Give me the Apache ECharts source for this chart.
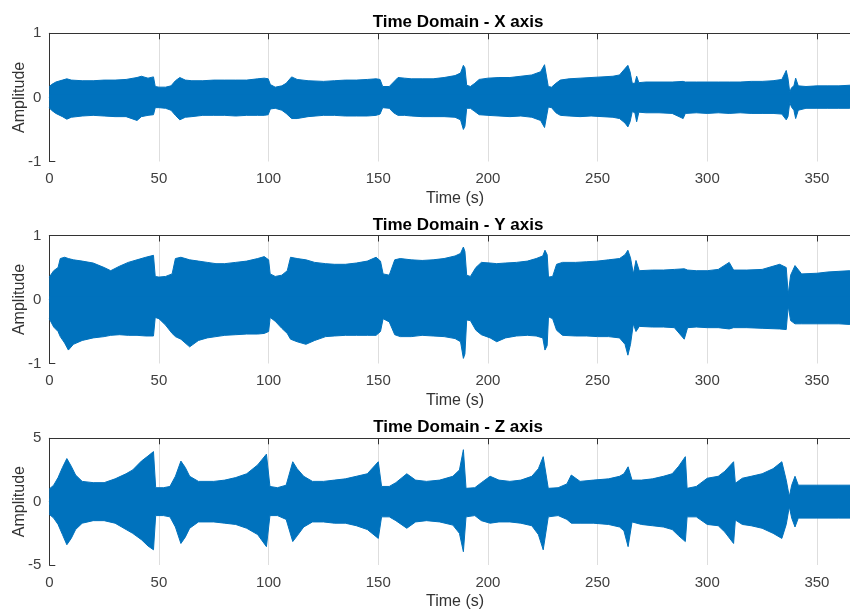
<!DOCTYPE html>
<html>
<head>
<meta charset="utf-8">
<script src="https://cdn.jsdelivr.net/npm/echarts@6/dist/echarts.min.js"></script>
<style>html,body{margin:0;padding:0;background:#fff}#c{width:850px;height:610px}</style>
</head>
<body>
<div id="c"></div>
<script>
// ---- Data (envelope of each signal) ----
var titles = ["Time Domain - X axis", "Time Domain - Y axis", "Time Domain - Z axis"];
var xTicks = [0, 50, 100, 150, 200, 250, 300, 350];
var yTicksXY = [-1, 0, 1];
var yTicksZ = [-5, 0, 5];

var tX = [0,1,3,6,8,10,15,20,25,30,35,40,42,45,47.5,48.3,50,53,55.5,57.5,59.5,62,65,70,75,80,85,90,95,98,99.8,100.8,103,106,108,110.5,113,118,125,130,135,140,145,149,150.8,152,155,157,159,162,165,170,175,180,185,187.5,188.8,189.5,190.3,192,194,196,200,205,210,215,220,224,225.8,226.6,227.5,229,231,233,237,242,247,252,257,260,262.5,263.8,264.8,265.8,267,267.8,268.8,272,278,284,289,290,295,300,305,310,315,320,325,330,334,336,336.8,337.6,338.4,339.5,340.3,341.5,345,350,355,360,365,370];
var upX = [0.17,0.20,0.24,0.27,0.29,0.27,0.26,0.26,0.27,0.27,0.28,0.31,0.33,0.30,0.32,0.17,0.16,0.16,0.18,0.26,0.31,0.27,0.26,0.26,0.27,0.27,0.27,0.27,0.29,0.30,0.29,0.20,0.16,0.18,0.22,0.32,0.28,0.26,0.25,0.26,0.27,0.27,0.28,0.29,0.28,0.17,0.17,0.24,0.31,0.30,0.29,0.29,0.29,0.31,0.34,0.38,0.50,0.46,0.19,0.17,0.22,0.28,0.30,0.31,0.31,0.33,0.35,0.40,0.51,0.48,0.17,0.16,0.22,0.27,0.29,0.30,0.31,0.32,0.33,0.35,0.45,0.50,0.40,0.22,0.22,0.33,0.23,0.24,0.24,0.24,0.25,0.24,0.24,0.24,0.24,0.24,0.24,0.25,0.25,0.26,0.28,0.42,0.30,0.08,0.15,0.18,0.30,0.18,0.17,0.18,0.18,0.18,0.19,0.18];
var loX = [-0.16,-0.20,-0.25,-0.30,-0.34,-0.31,-0.29,-0.28,-0.29,-0.30,-0.30,-0.36,-0.30,-0.28,-0.27,-0.16,-0.16,-0.17,-0.20,-0.28,-0.35,-0.31,-0.30,-0.28,-0.28,-0.28,-0.29,-0.28,-0.28,-0.28,-0.27,-0.18,-0.17,-0.20,-0.25,-0.33,-0.33,-0.30,-0.28,-0.28,-0.29,-0.29,-0.29,-0.28,-0.26,-0.16,-0.17,-0.24,-0.28,-0.28,-0.29,-0.30,-0.30,-0.30,-0.31,-0.35,-0.50,-0.45,-0.17,-0.17,-0.22,-0.27,-0.28,-0.29,-0.30,-0.29,-0.31,-0.36,-0.47,-0.45,-0.15,-0.16,-0.24,-0.28,-0.29,-0.30,-0.29,-0.30,-0.31,-0.33,-0.40,-0.46,-0.38,-0.22,-0.24,-0.38,-0.23,-0.24,-0.24,-0.25,-0.33,-0.25,-0.24,-0.25,-0.24,-0.25,-0.24,-0.25,-0.25,-0.25,-0.26,-0.35,-0.30,-0.08,-0.15,-0.20,-0.33,-0.20,-0.17,-0.17,-0.17,-0.17,-0.17,-0.17];

var tY = [0,2,4,5,7,8.7,11,15,20,25,28,32,36,40,44,47.5,48.3,50,53,56,57.5,60,64,68,72,76,80,85,90,95,98,100,100.7,103,106,108.5,110,113,117,121,126,130,135,140,145,149,151,152.2,155,157.5,160,165,170,175,180,185,187.5,188.8,189.5,190.3,192,194.5,197,201,204,208,213,218,222,225,226,227,227.6,229.5,231.3,234,240,245,250,255,260,262.5,263.8,265,266.3,267.5,269,275,280,285,289.5,291,295,300,305,310,312,318,325,333,336,336.9,338,340,343,350,355,360,365,370];
var upY = [0.35,0.45,0.50,0.64,0.66,0.64,0.62,0.60,0.57,0.50,0.45,0.52,0.58,0.62,0.66,0.69,0.36,0.35,0.36,0.40,0.64,0.66,0.62,0.60,0.58,0.56,0.56,0.58,0.60,0.64,0.67,0.62,0.40,0.36,0.38,0.45,0.66,0.64,0.62,0.58,0.56,0.55,0.55,0.57,0.60,0.66,0.60,0.40,0.38,0.62,0.64,0.62,0.61,0.62,0.64,0.68,0.72,0.82,0.75,0.38,0.36,0.50,0.58,0.57,0.56,0.57,0.58,0.60,0.64,0.68,0.77,0.70,0.35,0.36,0.55,0.58,0.58,0.59,0.60,0.62,0.64,0.70,0.77,0.65,0.40,0.61,0.45,0.46,0.46,0.47,0.48,0.46,0.45,0.45,0.47,0.58,0.46,0.46,0.47,0.55,0.50,0.08,0.38,0.53,0.40,0.41,0.43,0.44,0.45,0.44];
var loY = [-0.30,-0.43,-0.50,-0.58,-0.68,-0.79,-0.70,-0.64,-0.60,-0.58,-0.56,-0.55,-0.56,-0.56,-0.57,-0.57,-0.28,-0.30,-0.40,-0.53,-0.58,-0.62,-0.74,-0.64,-0.60,-0.58,-0.56,-0.55,-0.54,-0.54,-0.53,-0.50,-0.28,-0.34,-0.45,-0.53,-0.62,-0.66,-0.70,-0.64,-0.58,-0.57,-0.56,-0.56,-0.56,-0.56,-0.50,-0.30,-0.35,-0.55,-0.58,-0.58,-0.56,-0.57,-0.58,-0.61,-0.66,-0.92,-0.85,-0.32,-0.33,-0.48,-0.55,-0.60,-0.66,-0.60,-0.57,-0.56,-0.57,-0.60,-0.79,-0.72,-0.27,-0.30,-0.48,-0.56,-0.57,-0.57,-0.58,-0.58,-0.60,-0.70,-0.87,-0.70,-0.38,-0.50,-0.42,-0.43,-0.43,-0.44,-0.62,-0.44,-0.43,-0.44,-0.44,-0.46,-0.44,-0.44,-0.45,-0.46,-0.47,-0.10,-0.33,-0.38,-0.38,-0.38,-0.38,-0.38,-0.39,-0.38];

var tZ = [0,2,4,6,8,10,12,15,20,25,30,35,38,42,45,47.5,48.5,52,55,57.5,60,62,64,68,75,80,85,90,95,99,100.6,104,108,111,113,116,120,125,130,135,140,145,150,151.5,155,158,163,167,172,178,184,187,188.8,190,194,197,201,205,210,215,220,223,225.2,227.5,232,236,238,242,248,255,260,262,263.9,265.7,270,275,280,284,287,290,290.8,295,300,305,308,312,312.8,316,320,325,330,334,336,337.4,338.5,340,341.5,350,360,370];
var upZ = [1.0,1.3,1.9,2.7,3.4,2.8,2.1,1.6,1.5,1.5,1.8,2.2,2.5,3.2,3.6,3.95,1.1,1.1,1.2,2.0,3.2,2.7,2.0,1.6,1.6,1.7,1.9,2.2,2.9,3.75,1.2,1.1,1.3,3.15,2.6,2.0,1.6,1.6,1.7,1.8,2.0,2.2,3.15,1.2,1.2,1.5,2.2,1.7,1.6,1.7,2.0,2.5,4.1,1.05,1.1,1.5,2.0,1.7,1.6,1.7,2.0,2.6,3.55,1.05,1.1,1.4,2.1,1.6,1.7,1.8,2.0,2.2,2.75,1.7,1.7,1.8,2.0,2.2,2.8,3.55,1.05,1.2,1.85,2.0,2.4,3.15,1.45,1.85,2.0,2.2,2.6,3.15,1.7,0.4,1.3,2.0,1.3,1.3,1.3,1.3];
var loZ = [-1.0,-1.3,-1.8,-2.6,-3.4,-2.9,-2.2,-1.7,-1.5,-1.5,-1.7,-2.2,-2.5,-3.0,-3.5,-3.8,-1.1,-1.1,-1.2,-2.0,-3.3,-2.8,-2.1,-1.6,-1.6,-1.7,-1.8,-2.1,-2.6,-3.55,-1.1,-1.1,-1.4,-3.15,-2.7,-2.0,-1.6,-1.6,-1.7,-1.7,-1.9,-2.2,-2.9,-1.2,-1.2,-1.5,-2.1,-1.6,-1.5,-1.6,-1.85,-2.5,-3.95,-1.2,-1.1,-1.5,-1.7,-1.6,-1.6,-1.7,-1.9,-2.6,-3.8,-1.2,-1.1,-1.4,-1.7,-1.7,-1.7,-1.8,-2.0,-2.3,-3.55,-1.6,-1.8,-1.9,-2.0,-2.2,-2.7,-3.15,-1.2,-1.2,-1.8,-1.9,-2.4,-3.3,-1.45,-1.8,-1.9,-2.1,-2.5,-2.9,-1.8,-0.4,-1.3,-2.0,-1.3,-1.3,-1.3,-1.3];

// ---- Chart ----
var FONT = 'Liberation Sans, Arial, Helvetica, sans-serif';
var BLUE = '#0072BD';
var gridTops = [33.3, 235.5, 438.3];
var gridHeights = [128.2, 128, 126.7];
var overlap = [0.05, 0.05, 0.25];   // small overlap of the two halves so no seam shows at 0
var xMax = 370;
var sets = [[tX, upX, loX, yTicksXY], [tY, upY, loY, yTicksXY], [tZ, upZ, loZ, yTicksZ]];

var grids = [], xAxes = [], yAxes = [], series = [], titleOpts = [];
sets.forEach(function (s, i) {
  var t = s[0], up = s[1], lo = s[2], yt = s[3];
  grids.push({left: 49.3, top: gridTops[i], width: 811.5, height: gridHeights[i],
              containLabel: false, outerBoundsMode: 'none'});
  titleOpts.push({
    text: titles[i], left: 453, top: gridTops[i] - 24, textAlign: 'center',
    textStyle: {fontFamily: FONT, fontSize: 17, fontWeight: 'bold', color: '#000'}
  });
  xAxes.push({
    type: 'value', gridIndex: i, min: xTicks[0], max: xMax, interval: xTicks[1] - xTicks[0],
    name: 'Time (s)', nameLocation: 'middle', nameGap: 29, nameMoveOverlap: false,
    nameTextStyle: {fontFamily: FONT, fontSize: 16, color: '#333'},
    axisLine: {show: true, lineStyle: {color: '#333', width: 1}},
    axisTick: {show: true, inside: true, length: 6, lineStyle: {color: '#333'}},
    axisLabel: {fontFamily: FONT, fontSize: 15, color: '#404040', margin: 10, showMaxLabel: false},
    splitLine: {show: true, lineStyle: {color: '#dedede', width: 1}}
  });
  xAxes.push({
    type: 'value', gridIndex: i, position: 'top', min: xTicks[0], max: xMax, interval: xTicks[1] - xTicks[0],
    axisLine: {show: true, lineStyle: {color: '#333', width: 1}},
    axisTick: {show: true, inside: true, length: 6, lineStyle: {color: '#333'}},
    axisLabel: {show: false}, splitLine: {show: false}
  });
  yAxes.push({
    type: 'value', gridIndex: i, min: yt[0], max: yt[yt.length - 1], interval: yt[1] - yt[0],
    name: 'Amplitude', nameLocation: 'middle', nameGap: 22, nameRotate: 90, nameMoveOverlap: false,
    nameTextStyle: {fontFamily: FONT, fontSize: 16, color: '#333'},
    axisLine: {show: true, lineStyle: {color: '#333', width: 1}},
    axisTick: {show: true, inside: true, length: 6, lineStyle: {color: '#333'}},
    axisLabel: {fontFamily: FONT, fontSize: 15, color: '#404040', margin: 8},
    splitLine: {show: false}
  });
  // upper envelope, filled down to just below zero
  series.push({
    type: 'line', xAxisIndex: i * 2, yAxisIndex: i, symbol: 'none', smooth: false,
    data: t.map(function (x, k) { return [x, up[k]]; }),
    lineStyle: {color: BLUE, width: 1},
    areaStyle: {color: BLUE, opacity: 1, origin: -overlap[i]},
    silent: true
  });
  // lower envelope, filled up to just above zero
  series.push({
    type: 'line', xAxisIndex: i * 2, yAxisIndex: i, symbol: 'none', smooth: false,
    data: t.map(function (x, k) { return [x, lo[k]]; }),
    lineStyle: {color: BLUE, width: 1},
    areaStyle: {color: BLUE, opacity: 1, origin: overlap[i]},
    silent: true
  });
});

var chart = echarts.init(document.getElementById('c'), null, {renderer: 'canvas'});
chart.setOption({
  animation: false,
  backgroundColor: '#fff',
  title: titleOpts,
  grid: grids,
  xAxis: xAxes,
  yAxis: yAxes,
  series: series
});
</script>
</body>
</html>
